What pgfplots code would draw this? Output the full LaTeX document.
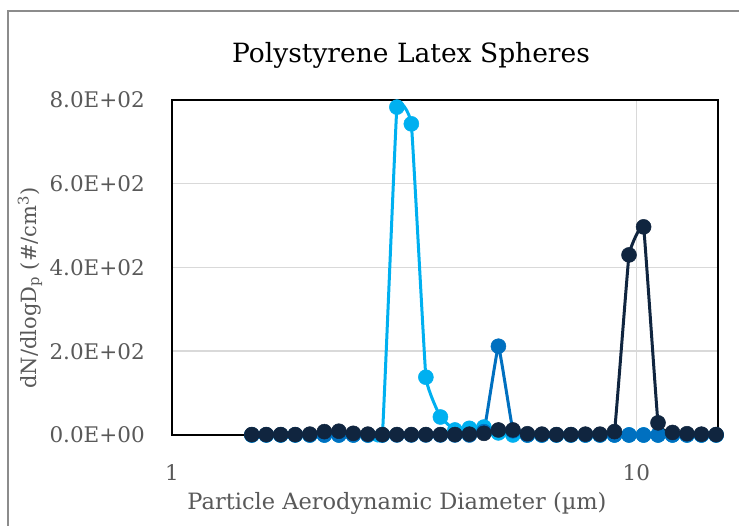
\documentclass[border=0pt]{standalone}
\usepackage{fontspec}
\setmainfont{DejaVu Serif}
\usepackage{pgfplots}
\usepackage{pgfplotstable}
\pgfplotsset{compat=1.18}
\definecolor{lblue}{HTML}{00B0F0}
\definecolor{mblue}{HTML}{0070C0}
\definecolor{navy}{HTML}{10253F}
\definecolor{txt}{HTML}{595959}
\definecolor{grd}{HTML}{D9D9D9}
\definecolor{frm}{HTML}{8C8C8C}

\pgfplotstableread{
d      L    M    N
1.486  0    0    1
1.596  0    0    1
1.715  0    0    1
1.843  0    0    1
1.981  0    0    2
2.129  0    0    8
2.288  0    0    9
2.458  0    0    4
2.642  0    0    2
2.839  0    0    1
3.051  783  0    1
3.278  743  0    1
3.523  138  0    1
3.786  43   0    1
4.068  12   0    1
4.371  16   0    2
4.698  19   8    4
5.048  5    212  12
5.425  0    10   12
5.829  0    0    3
6.264  0    0    2
6.732  0    0    1
7.234  0    0    1
7.774  0    0    2
8.354  0    0    2
8.977  0    0    8
9.647  0    0    430
10.37  0    0    497
11.14  0    0    29
11.97  0    0    6
12.86  0    0    3
13.82  0    0    2
14.86  0    0    1
}\data

\begin{document}
\begin{tikzpicture}
\useasboundingbox (0pt,0pt) rectangle (739pt,526pt);
\fill[white] (0pt,0pt) rectangle (739pt,526pt);
\begin{scope}
\clip (0pt,0pt) rectangle (739pt,526pt);
\draw[frm, line width=1.5pt] (8pt,-20pt) -- (8pt,515pt) -- (760pt,515pt);
\end{scope}
\begin{axis}[
  at={(172pt,91pt)}, anchor=south west,
  scale only axis, width=546pt, height=335pt,
  xmode=log, log basis x=10,
  xmin=1, xmax=15, ymin=0, ymax=800,
  xtick={1,10}, xticklabels={1,10},
  minor xtick={},
  ytick={0,200,400,600,800},
  yticklabels={0.0E+00,2.0E+02,4.0E+02,6.0E+02,8.0E+02},
  major tick length=0pt, minor tick length=0pt,
  ymajorgrids, xmajorgrids,
  grid style={grd, line width=1.5pt},
  axis line style={black, line width=1.8pt},
  tick label style={font=\fontsize{21.5}{21.5}\selectfont, text=txt},
  yticklabel style={anchor=east, inner sep=0pt, xshift=-27pt},
  xticklabel style={anchor=center, inner sep=0pt, yshift=-38pt},
  clip=false,
]
\addplot[lblue, line width=3pt, smooth, tension=0.15, mark=*, mark size=7.5pt, mark options={solid, fill=lblue, draw=lblue, line width=0.5pt}] table[x=d, y=L] {\data};
\addplot[mblue, line width=3pt, smooth, tension=0.15, mark=*, mark size=7.5pt, mark options={solid, fill=mblue, draw=mblue, line width=0.5pt}] table[x=d, y=M] {\data};
\addplot[navy, line width=3pt, smooth, tension=0.15, mark=*, mark size=7.5pt, mark options={solid, fill=navy, draw=navy, line width=0.5pt}] table[x=d, y=N] {\data};
\end{axis}
\node[font=\fontsize{26.5}{26.5}\selectfont, text=black] at (411pt,471pt) {Polystyrene Latex Spheres};
\node[font=\fontsize{22.5}{22.5}\selectfont, text=txt] at (397pt,23pt) {Particle Aerodynamic Diameter (µm)};
\node[font=\fontsize{21}{21}\selectfont, text=txt, rotate=90] at (30pt,238pt) {dN/dlogD\textsubscript{p} (\#/cm\textsuperscript{3})};
\end{tikzpicture}
\end{document}
